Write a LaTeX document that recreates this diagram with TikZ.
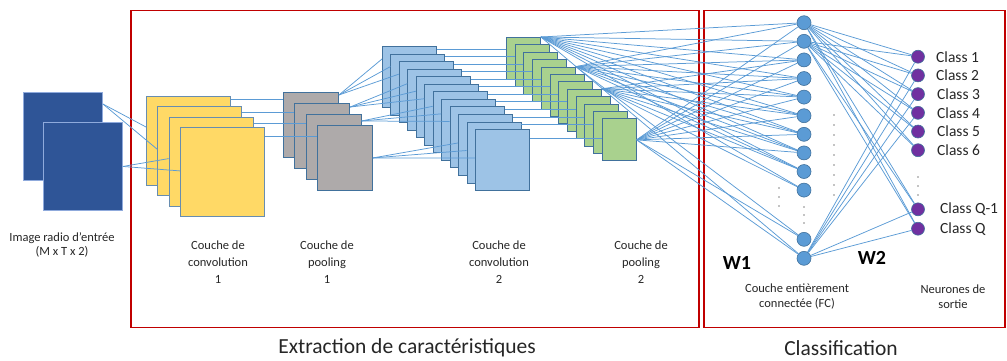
\documentclass[tikz,border=0pt]{standalone}
\usepackage{fontspec}
\setmainfont{Carlito}
\usetikzlibrary{calc}
\definecolor{conn}{HTML}{5B9BD5}
\definecolor{edgeblue}{HTML}{41719C}
\definecolor{inblue}{HTML}{2F5597}
\definecolor{inedge}{HTML}{8FAADC}
\definecolor{yel}{HTML}{FFD966}
\definecolor{gry}{HTML}{AEAAAA}
\definecolor{lblue}{HTML}{9DC3E6}
\definecolor{grn}{HTML}{A9D18E}
\definecolor{purp}{HTML}{7030A0}
\definecolor{redbox}{HTML}{C00000}
\definecolor{txt}{HTML}{262626}
\begin{document}
\begin{tikzpicture}[x=1pt,y=-1pt,
  sq/.style={draw=edgeblue, line width=0.9pt, inner sep=0pt, anchor=north west, rectangle},
  conn/.style={draw=conn, line width=0.75pt},
  fcn/.style={circle, fill=conn, draw=edgeblue, line width=0.6pt, minimum size=14pt, inner sep=0pt},
  outn/.style={circle, fill=purp, draw=edgeblue, line width=0.6pt, minimum size=13pt, inner sep=0pt},
  lbl/.style={font=\fontsize{12.5}{17}\selectfont, align=center, text=txt, inner sep=0pt},
  cls/.style={font=\fontsize{15.5}{18}\selectfont, anchor=west, text=txt, inner sep=0pt},
  ttl/.style={font=\fontsize{21.5}{24}\selectfont, text=txt, inner sep=0pt},
  wlbl/.style={font=\fontsize{20}{22}\selectfont\bfseries, text=black, inner sep=0pt},
  frame/.style={draw=redbox, line width=1.8pt, inner sep=0pt, anchor=north west, rectangle},
  dotc/.style={fill=black}
]
\useasboundingbox (0,0) rectangle (1007,360);

% red frames
\node[frame, minimum width=568, minimum height=317] (boxA) at (130,9.5) {};
\node[frame, minimum width=301, minimum height=317] (boxB) at (703,9.5) {};

% input image
\node[sq, draw=inedge, fill=inblue, minimum width=79, minimum height=88] (I1) at (23,92) {};
\node[sq, draw=inedge, fill=inblue, minimum width=79, minimum height=88] (I2) at (43,122) {};

% conv 1
\foreach \i in {1,...,4} {
  \pgfmathsetmacro\xx{146+11.3*(\i-1)}
  \pgfmathsetmacro\yy{96+10.3*(\i-1)}
  \node[sq, draw=edgeblue!80, fill=yel, minimum width=84, minimum height=89] (Y\i) at (\xx,\yy) {};
}
% pool 1
\foreach \i in {1,...,4} {
  \pgfmathsetmacro\xx{283+11.3*(\i-1)}
  \pgfmathsetmacro\yy{92+11*(\i-1)}
  \node[sq, fill=gry, minimum width=55, minimum height=65] (P\i) at (\xx,\yy) {};
}
% conv 2
\foreach \i in {1,...,12} {
  \pgfmathsetmacro\xx{382+8.45*(\i-1)}
  \pgfmathsetmacro\yy{46+7.55*(\i-1)}
  \node[sq, fill=lblue, minimum width=54, minimum height=61] (B\i) at (\xx,\yy) {};
}
% pool 2
\foreach \i in {1,...,12} {
  \pgfmathsetmacro\xx{506+8.7*(\i-1)}
  \pgfmathsetmacro\yy{37+7.4*(\i-1)}
  \node[sq, fill=grn, minimum width=34, minimum height=42] (G\i) at (\xx,\yy) {};
}

% fully connected neurons
\foreach \i in {1,...,10} {
  \pgfmathsetmacro\yy{22.7+18.6*(\i-1)}
  \node[fcn] (F\i) at (804,\yy) {};
}
\node[fcn] (F11) at (804,239.3) {};
\node[fcn] (F12) at (804,258.3) {};

% output neurons
\foreach \i in {1,...,6} {
  \pgfmathsetmacro\yy{56.7+18.7*(\i-1)}
  \node[outn] (O\i) at (918,\yy) {};
}
\node[outn] (O7) at (918,209.3) {};
\node[outn] (O8) at (918,228.7) {};

% connectors: input -> conv1
\draw[conn] ([yshift=-12]I1.north east) -- ([yshift=-31]Y1.north west);
\draw[conn] ([yshift=-12]I1.north east) -- ([yshift=-43]Y2.north west);
\draw[conn] (I2.east) -- ([yshift=-42]Y3.north west);
\draw[conn] (I2.east) -- ([yshift=-44]Y4.north west);

% conv1 -> pool1
\foreach \i/\d in {1/3,2/6,3/7,4/9}
  \draw[conn] ([yshift=-\d]Y\i.north east) coordinate (t) -- (t -| P\i.west);

% pool1 -> conv2
\foreach \j in {1,2,3}
  \draw[conn] ([yshift=-3]P1.north east) -- ([yshift=-13]B\j.north west);
\foreach \j in {4,5,6}
  \draw[conn] ([yshift=-4]P2.north east) -- ([yshift=-15]B\j.north west);
\foreach \j in {7,8,9}
  \draw[conn] ([yshift=-7]P3.north east) -- ([yshift=-15]B\j.north west);
\foreach \j in {10,11,12}
  \draw[conn] (P4.east) -- ([yshift=-29]B\j.north west);

% conv2 -> pool2
\foreach \i in {1,...,11}
  \draw[conn] ([yshift=-3]B\i.north east) coordinate (t) -- (t -| G\i.west);
\draw[conn] ([yshift=-9]B12.north east) coordinate (t) -- (t -| G12.west);

% pool2 -> FC (W1)
\foreach \j in {1,...,10,12}
  \draw[conn] (G1.north east) -- (F\j);
\foreach \j in {1,...,9,11}
  \draw[conn] (G5.north east) -- (F\j);
\foreach \j in {3,...,10}
  \draw[conn] (G8.north east) -- (F\j);
\foreach \j in {1,...,8,11,12}
  \draw[conn] (G12.east) -- (F\j);

% FC -> output (W2)
\foreach \k in {1,...,8}
  \draw[conn] (F1) -- (O\k);
\foreach \k in {1,...,8}
  \draw[conn] (F2) -- (O\k);
\foreach \k in {1,2,3,4,7,8}
  \draw[conn] (F12) -- (O\k);

% dots
\foreach \yy in {207,215,223} \fill[dotc] (804,\yy) circle (0.6);
\foreach \yy in {188,197,206} \fill[dotc] (779,\yy) circle (0.6);
\foreach \yy in {115,125,135,145,155,165,175,185,195} \fill[dotc] (834,\yy) circle (0.6);
\foreach \yy in {177,186,195} \fill[dotc] (918,\yy) circle (0.6);

% class labels
\node[cls] (L1) at (936,56.7) {Class 1};
\node[cls] (L2) at (936,75.4) {Class 2};
\node[cls] (L3) at (937,94.1) {Class 3};
\node[cls] (L4) at (937,112.8) {Class 4};
\node[cls] (L5) at (937,131.5) {Class 5};
\node[cls] (L6) at (937,150.2) {Class 6};
\node[cls] (L7) at (940,209.3) {Class Q-1};
\node[cls] (L8) at (940,228.7) {Class Q};

% layer labels
\node[lbl, font=\fontsize{12.5}{14}\selectfont] (tin) at (62,245) {Image radio d’entrée\\(M x T x 2)};
\node[lbl] (tc1) at (218,262) {Couche de\\convolution\\1};
\node[lbl] (tp1) at (327,262) {Couche de\\pooling\\1};
\node[lbl] (tc2) at (499,262) {Couche de\\convolution\\2};
\node[lbl] (tp2) at (641,262) {Couche de\\pooling\\2};
\node[lbl, font=\fontsize{12.5}{15}\selectfont] (tfc) at (797,297) {Couche entièrement\\connectée (FC)};
\node[lbl, font=\fontsize{12.5}{15}\selectfont] (tout) at (953,297) {Neurones de\\sortie};
\node[wlbl] (w1) at (737,263) {W1};
\node[wlbl] (w2) at (872,258) {W2};

% titles
\node[ttl] (t1) at (407,348) {Extraction de caractéristiques};
\node[ttl] (t2) at (841,348) {Classification};
\end{tikzpicture}
\end{document}
